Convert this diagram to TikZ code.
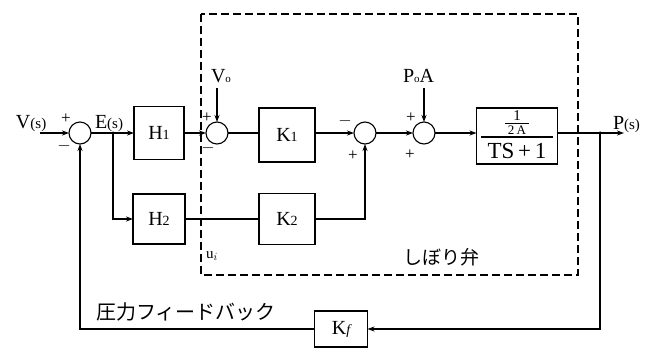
\documentclass[tikz,border=0pt]{standalone}
\usepackage{fontspec}
\setmainfont{Liberation Serif}
\newfontfamily\jpfont{Noto Sans CJK JP}
\usetikzlibrary{arrows.meta}
\begin{document}
\begin{tikzpicture}[x=1pt,y=-1pt,
  every node/.style={inner sep=0pt,outer sep=0pt},
  blk/.style={draw,line width=1.4pt,minimum width=#1},
  sumc/.style={draw,circle,line width=1.1pt,minimum size=22pt},
  ln/.style={line width=1.1pt},
  arr/.style={ln,-{Stealth[length=7pt,width=5pt]}},
  lbl/.style={font=\fontsize{20}{22}\selectfont},
  sg/.style={font=\fontsize{17}{17}\selectfont},
  dot/.style={circle,fill,minimum size=3.5pt}]
\useasboundingbox (0,0) rectangle (666,354);
\fill[white] (0,0) rectangle (666,354);
% dashed enclosure
\draw[line width=1.2pt,dash pattern=on 8pt off 4pt] (201,14) rectangle (578,275);
% nodes
\node[sumc] (s1) at (80,133) {};
\node[blk=50pt,minimum height=53pt,lbl] (h1) at (159,133) {H{\fontsize{14}{14}\selectfont 1}};
\node[sumc] (s2) at (217,133) {};
\node[blk=56pt,minimum height=54pt,lbl] (k1) at (287,135) {K{\fontsize{14}{14}\selectfont 1}};
\node[sumc] (s3) at (365,133) {};
\node[sumc] (s4) at (424,133) {};
\node[blk=81pt,minimum height=56pt] (tf) at (517,136) {};
\node[blk=52pt,minimum height=50pt,lbl] (h2) at (159,219) {H{\fontsize{14}{14}\selectfont 2}};
\node[blk=56pt,minimum height=51pt,lbl] (k2) at (287,219) {K{\fontsize{14}{14}\selectfont 2}};
\node[blk=53pt,minimum height=36pt,lbl] (kf) at (341,329) {K{\fontsize{14}{14}\selectfont\itshape f}};
% transfer function content
\node[font=\fontsize{15}{15}\selectfont] (num1) at (517,116) {1};
\node[font=\fontsize{13}{13}\selectfont] (num2) at (517,130) {2\,A};
\draw[line width=0.8pt] (505,123) -- (529,123);
\draw[line width=1.1pt] (481,137) -- (553,137);
\node[font=\fontsize{23}{23}\selectfont] (den) at (517,151) {TS\,+\,1};
% coordinates
\coordinate (in) at (40,133);
\coordinate (eb) at (113,133);
\coordinate (pb) at (600,133);
\coordinate (out) at (624,133);
\coordinate (vo) at (217,88);
\coordinate (pa) at (424,88);
\node[dot] at (eb) {};
\node[dot] at (pb) {};
% connections
\draw[arr] (in) -- (s1);
\draw[arr] (s1) -- (h1);
\draw[arr] (h1) -- (s2);
\draw[ln] (s2) -- (k1.west |- s2);
\draw[arr] (k1.east |- s3) -- (s3);
\draw[arr] (s3) -- (s4);
\draw[arr] (s4) -- (tf.west |- s4);
\draw[arr] (tf.east |- pb) -- (out);
\draw[arr] (vo) -- (s2);
\draw[arr] (pa) -- (s4);
\draw[arr] (eb) |- (h2);
\draw[ln] (h2) -- (k2);
\draw[arr] (k2.east) -| (s3);
\draw[arr] (pb) |- (kf);
\draw[arr] (kf.west) -| (s1);
% labels
\node[lbl,anchor=base west] at (16,128) {V{\fontsize{15}{15}\selectfont(s)}};
\node[lbl,anchor=base west] at (95,128) {E{\fontsize{15}{15}\selectfont(s)}};
\node[lbl,anchor=base west] at (613,129) {P{\fontsize{15}{15}\selectfont(s)}};
\node[lbl,anchor=base west] at (211,82) {V{\fontsize{11}{11}\selectfont o}};
\node[lbl,anchor=base west] at (403,82) {P{\fontsize{11}{11}\selectfont o}A};
\node[sg] at (66,119) {+};
\node[sg] at (64,146) {$-$};
\node[sg] at (207,118) {+};
\node[sg] at (208,148) {$-$};
\node[sg] at (345,121) {$-$};
\node[sg] at (353,156) {+};
\node[sg] at (411,118) {+};
\node[sg] at (410,155) {+};
\node[font=\fontsize{15}{15}\selectfont,anchor=base west] at (206,258) {u$_i$};
\node[font=\jpfont\fontsize{19}{19}\selectfont,anchor=base west] at (403,264) {しぼり弁};
\node[font=\jpfont\fontsize{20}{20}\selectfont,anchor=base west] at (96,319) {圧力フィードバック};
\end{tikzpicture}
\end{document}
